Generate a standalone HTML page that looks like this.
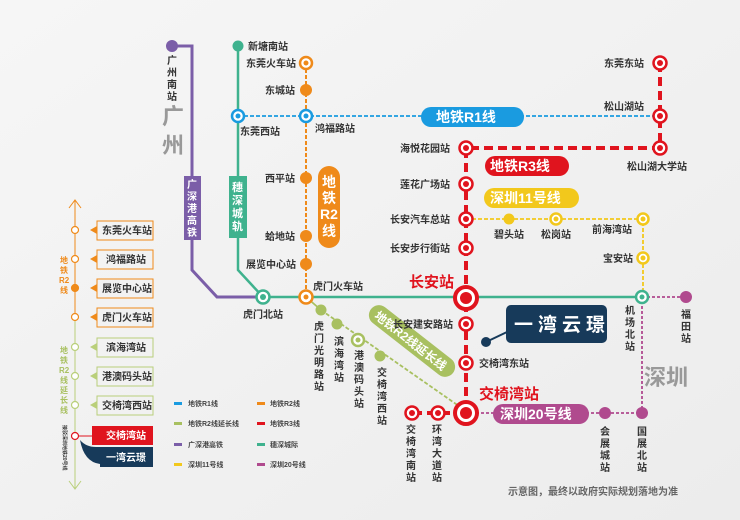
<!DOCTYPE html>
<html><head><meta charset="utf-8"><style>
html,body{margin:0;padding:0;width:740px;height:520px;overflow:hidden;background:#f2f2f2}
svg text{font-family:"Liberation Sans","Noto Sans CJK SC",sans-serif;font-weight:bold}
</style></head><body>
<svg width="740" height="520" viewBox="0 0 740 520" xmlns="http://www.w3.org/2000/svg">
<defs>
<linearGradient id="bg" x1="0" y1="0" x2="1" y2="1"><stop offset="0" stop-color="#f6f6f6"/><stop offset="1" stop-color="#ececec"/></linearGradient>
</defs>
<rect width="740" height="520" fill="url(#bg)"/>

<!-- Guangzhou/Shenzhen big -->
<text x="162" y="124" font-size="22" fill="#999" font-weight="normal">广</text>
<text x="162" y="153" font-size="22" fill="#999" font-weight="normal">州</text>
<text x="644" y="385" font-size="22" fill="#999" font-weight="normal">深圳</text>

<!-- purple line -->
<polyline points="172,46 192,46 192,270 217,297 262,297" fill="none" stroke="#7b5ea8" stroke-width="3"/>
<circle cx="172" cy="46" r="6" fill="#7b5ea8"/>
<text font-size="10" fill="#333"><tspan x="167" y="64">广</tspan><tspan x="167" y="76">州</tspan><tspan x="167" y="88">南</tspan><tspan x="167" y="100">站</tspan></text>
<rect x="184" y="176" width="17" height="64" fill="#7b5ea8"/>
<text font-size="10" fill="#fff" font-weight="normal"><tspan x="187" y="188">广</tspan><tspan x="187" y="200">深</tspan><tspan x="187" y="212">港</tspan><tspan x="187" y="224">高</tspan><tspan x="187" y="236">铁</tspan></text>

<!-- teal line -->
<polyline points="238,46 238,270 263,297 642,297" fill="none" stroke="#3fb28e" stroke-width="2.5"/>
<circle cx="238" cy="46" r="5.5" fill="#3fb28e"/>
<text x="248" y="50" font-size="10" fill="#333">新塘南站</text>
<rect x="229" y="176" width="18" height="62" fill="#3fb28e"/>
<text font-size="11" fill="#fff" font-weight="normal"><tspan x="232" y="191">穗</tspan><tspan x="232" y="204">深</tspan><tspan x="232" y="217">城</tspan><tspan x="232" y="230">轨</tspan></text>

<!-- R1 blue dashed -->
<line x1="238" y1="116" x2="660" y2="116" stroke="#1a9be0" stroke-width="1.8" stroke-dasharray="4,2"/>
<rect x="421" y="107" width="103" height="20" rx="10" fill="#1a9be0"/>
<text x="436" y="122" font-size="14" fill="#fff">地铁R1线</text>
<circle cx="238" cy="116" r="6" fill="#fff" stroke="#1a9be0" stroke-width="2.5"/><circle cx="238" cy="116" r="2.5" fill="#1a9be0"/>
<text x="240" y="135" font-size="10" fill="#333">东莞西站</text>

<!-- R2 orange dashed -->
<line x1="306" y1="63" x2="306" y2="297" stroke="#ef8a1a" stroke-width="2" stroke-dasharray="4,2"/>
<circle cx="306" cy="63" r="6" fill="#fff" stroke="#ef8a1a" stroke-width="2.5"/><circle cx="306" cy="63" r="2.5" fill="#ef8a1a"/>
<text x="246" y="67" font-size="10" fill="#333">东莞火车站</text>
<circle cx="306" cy="90" r="6" fill="#ef8a1a"/><text x="265" y="94" font-size="10" fill="#333">东城站</text>
<circle cx="306" cy="116" r="6" fill="#fff" stroke="#1a9be0" stroke-width="2.5"/><circle cx="306" cy="116" r="2.5" fill="#1a9be0"/>
<text x="315" y="132" font-size="10" fill="#333">鸿福路站</text>
<circle cx="306" cy="178" r="6" fill="#ef8a1a"/><text x="265" y="182" font-size="10" fill="#333">西平站</text>
<circle cx="306" cy="236" r="6" fill="#ef8a1a"/><text x="265" y="240" font-size="10" fill="#333">蛤地站</text>
<circle cx="306" cy="264" r="6" fill="#ef8a1a"/><text x="246" y="268" font-size="10" fill="#333">展览中心站</text>
<rect x="318" y="166" width="22" height="82" rx="11" fill="#ef8a1a"/>
<text font-size="14" fill="#fff" font-weight="normal"><tspan x="322" y="187">地</tspan><tspan x="322" y="203">铁</tspan><tspan x="320" y="219">R2</tspan><tspan x="322" y="236">线</tspan></text>
<text x="313" y="290" font-size="10" fill="#333">虎门火车站</text>
<text x="243" y="318" font-size="10" fill="#333">虎门北站</text>

<!-- R2 extension -->
<line x1="321" y1="310" x2="466" y2="411" stroke="#a8c060" stroke-width="1.8" stroke-dasharray="4,2"/>
<line x1="306" y1="297" x2="321" y2="310" stroke="#a8c060" stroke-width="1.8"/>
<circle cx="321" cy="310" r="5.5" fill="#a8c060"/>
<circle cx="337" cy="324" r="5.5" fill="#a8c060"/>
<circle cx="358" cy="340" r="6" fill="#fff" stroke="#a8c060" stroke-width="2.5"/><circle cx="358" cy="340" r="2.5" fill="#a8c060"/>
<circle cx="380" cy="356" r="5.5" fill="#a8c060"/>
<g transform="translate(412,341) rotate(38)"><rect x="-52" y="-10" width="104" height="20" rx="10" fill="#a8c060"/><text x="-45" y="5" font-size="12" fill="#fff">地铁R2线延长线</text></g>
<text font-size="10" fill="#333"><tspan x="314" y="330">虎</tspan><tspan x="314" y="342">门</tspan><tspan x="314" y="354">光</tspan><tspan x="314" y="366">明</tspan><tspan x="314" y="378">路</tspan><tspan x="314" y="390">站</tspan></text>
<text font-size="10" fill="#333"><tspan x="334" y="345">滨</tspan><tspan x="334" y="357">海</tspan><tspan x="334" y="369">湾</tspan><tspan x="334" y="381">站</tspan></text>
<text font-size="10" fill="#333"><tspan x="354" y="359">港</tspan><tspan x="354" y="371">澳</tspan><tspan x="354" y="383">码</tspan><tspan x="354" y="395">头</tspan><tspan x="354" y="407">站</tspan></text>
<text font-size="10" fill="#333"><tspan x="377" y="376">交</tspan><tspan x="377" y="388">椅</tspan><tspan x="377" y="400">湾</tspan><tspan x="377" y="412">西</tspan><tspan x="377" y="424">站</tspan></text>

<circle cx="306" cy="297" r="6.5" fill="#fff" stroke="#ef8a1a" stroke-width="2.5"/><circle cx="306" cy="297" r="2.5" fill="#ef8a1a"/>
<circle cx="263" cy="297" r="6.5" fill="#fff" stroke="#3fb28e" stroke-width="2.5"/><circle cx="263" cy="297" r="3" fill="#3fb28e"/>

<!-- Yellow 11 -->
<polyline points="466,219 643,219 643,297" fill="none" stroke="#f2c81c" stroke-width="1.8" stroke-dasharray="4,2"/>
<rect x="484" y="188" width="95" height="20" rx="10" fill="#f2c81c"/>
<text x="490" y="203" font-size="14" fill="#fff">深圳11号线</text>
<circle cx="509" cy="219" r="5.5" fill="#f2c81c"/><text x="494" y="238" font-size="10" fill="#333">碧头站</text>
<circle cx="556" cy="219" r="5.5" fill="#fff" stroke="#f2c81c" stroke-width="2.5"/><circle cx="556" cy="219" r="2.5" fill="#f2c81c"/><text x="541" y="238" font-size="10" fill="#333">松岗站</text>
<circle cx="643" cy="219" r="5.5" fill="#fff" stroke="#f2c81c" stroke-width="2.5"/><circle cx="643" cy="219" r="2.5" fill="#f2c81c"/><text x="592" y="233" font-size="10" fill="#333">前海湾站</text>
<circle cx="643" cy="258" r="5.5" fill="#fff" stroke="#f2c81c" stroke-width="2.5"/><circle cx="643" cy="258" r="2.5" fill="#f2c81c"/><text x="603" y="262" font-size="10" fill="#333">宝安站</text>

<!-- Pink 20 -->
<line x1="642" y1="297" x2="686" y2="297" stroke="#b04a8e" stroke-width="1.8" stroke-dasharray="3,2"/>
<polyline points="466,413 642,413 642,297" fill="none" stroke="#b04a8e" stroke-width="1.8" stroke-dasharray="3,2"/>
<circle cx="686" cy="297" r="6" fill="#b04a8e"/>
<text font-size="10" fill="#333"><tspan x="681" y="318">福</tspan><tspan x="681" y="330">田</tspan><tspan x="681" y="342">站</tspan></text>
<circle cx="642" cy="297" r="6" fill="#fff" stroke="#3fb28e" stroke-width="2.5"/><circle cx="642" cy="297" r="2.5" fill="#3fb28e"/>
<text font-size="10" fill="#333"><tspan x="625" y="314">机</tspan><tspan x="625" y="326">场</tspan><tspan x="625" y="338">北</tspan><tspan x="625" y="350">站</tspan></text>
<rect x="493" y="404" width="96" height="20" rx="10" fill="#b04a8e"/>
<text x="500" y="419" font-size="14" fill="#fff">深圳20号线</text>
<circle cx="605" cy="413" r="6" fill="#b04a8e"/>
<circle cx="642" cy="413" r="6" fill="#b04a8e"/>
<text font-size="10" fill="#333"><tspan x="600" y="435">会</tspan><tspan x="600" y="447">展</tspan><tspan x="600" y="459">城</tspan><tspan x="600" y="471">站</tspan></text>
<text font-size="10" fill="#333"><tspan x="637" y="435">国</tspan><tspan x="637" y="447">展</tspan><tspan x="637" y="459">北</tspan><tspan x="637" y="471">站</tspan></text>

<!-- R3 red -->
<polyline points="660,63 660,148 466,148 466,413 412,413" fill="none" stroke="#e0141e" stroke-width="4" stroke-dasharray="9,5"/>
<rect x="485" y="156" width="84" height="20" rx="10" fill="#e0141e"/>
<text x="490" y="171" font-size="14" fill="#fff">地铁R3线</text>
<g fill="#fff" stroke="#e0141e" stroke-width="2.5">
<circle cx="660" cy="63" r="6.5"/><circle cx="660" cy="116" r="6.5"/><circle cx="660" cy="148" r="6.5"/>
<circle cx="466" cy="148" r="6.5"/><circle cx="466" cy="184" r="6.5"/><circle cx="466" cy="219" r="6.5"/><circle cx="466" cy="248" r="6.5"/>
<circle cx="466" cy="324" r="6.5"/><circle cx="466" cy="363" r="6.5"/><circle cx="438" cy="413" r="6.5"/><circle cx="412" cy="413" r="6.5"/>
</g>
<g fill="#e0141e">
<circle cx="660" cy="63" r="3"/><circle cx="660" cy="116" r="3"/><circle cx="660" cy="148" r="3"/>
<circle cx="466" cy="148" r="3"/><circle cx="466" cy="184" r="3"/><circle cx="466" cy="219" r="3"/><circle cx="466" cy="248" r="3"/>
<circle cx="466" cy="324" r="3"/><circle cx="466" cy="363" r="3"/><circle cx="438" cy="413" r="3"/><circle cx="412" cy="413" r="3"/>
</g>
<circle cx="466" cy="298" r="11" fill="#fff" stroke="#e0141e" stroke-width="4"/><circle cx="466" cy="298" r="6" fill="#e0141e"/>
<circle cx="466" cy="413" r="11" fill="#fff" stroke="#e0141e" stroke-width="4"/><circle cx="466" cy="413" r="6" fill="#e0141e"/>
<text x="604" y="67" font-size="10" fill="#333">东莞东站</text>
<text x="604" y="110" font-size="10" fill="#333">松山湖站</text>
<text x="627" y="170" font-size="10" fill="#333">松山湖大学站</text>
<text x="400" y="152" font-size="10" fill="#333">海悦花园站</text>
<text x="400" y="188" font-size="10" fill="#333">莲花广场站</text>
<text x="390" y="223" font-size="10" fill="#333">长安汽车总站</text>
<text x="390" y="252" font-size="10" fill="#333">长安步行街站</text>
<text x="409" y="287" font-size="15" fill="#e0141e">长安站</text>
<text x="393" y="328" font-size="10" fill="#333">长安建安路站</text>
<text x="479" y="367" font-size="10" fill="#333">交椅湾东站</text>
<text x="479" y="399" font-size="15" fill="#e0141e">交椅湾站</text>
<text font-size="10" fill="#333"><tspan x="406" y="433">交</tspan><tspan x="406" y="445">椅</tspan><tspan x="406" y="457">湾</tspan><tspan x="406" y="469">南</tspan><tspan x="406" y="481">站</tspan></text>
<text font-size="10" fill="#333"><tspan x="432" y="433">环</tspan><tspan x="432" y="445">湾</tspan><tspan x="432" y="457">大</tspan><tspan x="432" y="469">道</tspan><tspan x="432" y="481">站</tspan></text>

<!-- 一湾云璟 -->
<line x1="486" y1="342" x2="507" y2="332" stroke="#173a5a" stroke-width="2"/>
<circle cx="486" cy="342" r="5" fill="#173a5a"/>
<rect x="506" y="305" width="101" height="38" rx="5" fill="#173a5a"/>
<text x="514" y="331" font-size="19" fill="#fff" font-weight="normal" letter-spacing="5">一湾云璟</text>

<!-- legend -->
<g font-size="7" fill="#444" font-weight="normal">
<rect x="174" y="402" width="8" height="3" fill="#1a9be0"/><text x="188" y="406">地铁R1线</text>
<rect x="257" y="402" width="8" height="3" fill="#ef8a1a"/><text x="270" y="406">地铁R2线</text>
<rect x="174" y="422" width="8" height="3" fill="#a8c060"/><text x="188" y="426">地铁R2线延长线</text>
<rect x="257" y="422" width="8" height="3" fill="#e0141e"/><text x="270" y="426">地铁R3线</text>
<rect x="174" y="443" width="8" height="3" fill="#7b5ea8"/><text x="188" y="447">广深港高铁</text>
<rect x="257" y="443" width="8" height="3" fill="#3fb28e"/><text x="270" y="447">穗深城际</text>
<rect x="174" y="463" width="8" height="3" fill="#f2c81c"/><text x="188" y="467">深圳11号线</text>
<rect x="257" y="463" width="8" height="3" fill="#b04a8e"/><text x="270" y="467">深圳20号线</text>
</g>

<!-- left panel -->
<line x1="75" y1="201" x2="75" y2="320" stroke="#ef8a1a" stroke-width="1"/>
<line x1="75" y1="320" x2="75" y2="488" stroke="#b9cf7a" stroke-width="1"/>
<polyline points="69,208 75,200 81,208" fill="none" stroke="#ef8a1a" stroke-width="1"/>
<polyline points="69,481 75,489 81,481" fill="none" stroke="#b9cf7a" stroke-width="1"/>
<text font-size="8" fill="#ef8a1a" font-weight="normal"><tspan x="60" y="263">地</tspan><tspan x="60" y="273">铁</tspan><tspan x="59" y="283">R2</tspan><tspan x="60" y="293">线</tspan></text>
<text font-size="8" fill="#a8c060" font-weight="normal"><tspan x="60" y="353">地</tspan><tspan x="60" y="363">铁</tspan><tspan x="59" y="373">R2</tspan><tspan x="60" y="383">线</tspan><tspan x="60" y="393">延</tspan><tspan x="60" y="403">长</tspan><tspan x="60" y="413">线</tspan></text>
<text x="0" y="0" font-size="5" fill="#333" font-weight="normal" transform="translate(63,425) rotate(90)">接驳深圳地铁20号线</text>
<g font-size="10" fill="#333">
<g stroke="#ef8a1a" fill="none" stroke-width="1"><rect x="97" y="221" width="56" height="19"/><rect x="97" y="250" width="56" height="19"/><rect x="97" y="279" width="56" height="19"/><rect x="97" y="308" width="56" height="19"/></g>
<g stroke="#b9cf7a" fill="none" stroke-width="1"><rect x="97" y="338" width="56" height="19"/><rect x="97" y="367" width="56" height="19"/><rect x="97" y="396" width="56" height="19"/></g>
<g fill="#ef8a1a"><polygon points="90,230 97,226 97,234"/><polygon points="90,259 97,255 97,263"/><polygon points="90,288 97,284 97,292"/><polygon points="90,317 97,313 97,321"/></g>
<g fill="#b9cf7a"><polygon points="90,347 97,343 97,351"/><polygon points="90,376 97,372 97,380"/><polygon points="90,405 97,401 97,409"/></g>
<rect x="92" y="426" width="61" height="19" fill="#e0141e"/>
<path d="M80,440 Q84,462 100,464 L100,467 L153,467 L153,447 L96,447 Q86,447 80,440Z" fill="#173a5a"/>
<text x="102" y="234">东莞火车站</text><text x="106" y="263">鸿福路站</text><text x="102" y="292">展览中心站</text><text x="102" y="321">虎门火车站</text>
<text x="106" y="351">滨海湾站</text><text x="102" y="380">港澳码头站</text><text x="102" y="409">交椅湾西站</text>
<text x="106" y="439" fill="#fff">交椅湾站</text><text x="106" y="461" fill="#fff">一湾云璟</text>
</g>
<g stroke-width="1.2" fill="#fff">
<circle cx="75" cy="230" r="3.5" stroke="#ef8a1a"/><circle cx="75" cy="259" r="3.5" stroke="#ef8a1a"/><circle cx="75" cy="288" r="3.5" fill="#ef8a1a" stroke="#ef8a1a"/><circle cx="75" cy="317" r="3.5" stroke="#ef8a1a"/>
<circle cx="75" cy="347" r="3.5" stroke="#b9cf7a"/><circle cx="75" cy="376" r="3.5" stroke="#b9cf7a"/><circle cx="75" cy="405" r="3.5" stroke="#b9cf7a"/><circle cx="75" cy="436" r="3.5" stroke="#e0141e"/>
</g>
<line x1="79" y1="436" x2="92" y2="436" stroke="#e0141e" stroke-width="1"/>

<text x="508" y="495" font-size="10" fill="#666" font-weight="normal">示意图，最终以政府实际规划落地为准</text>
</svg>
</body></html>
